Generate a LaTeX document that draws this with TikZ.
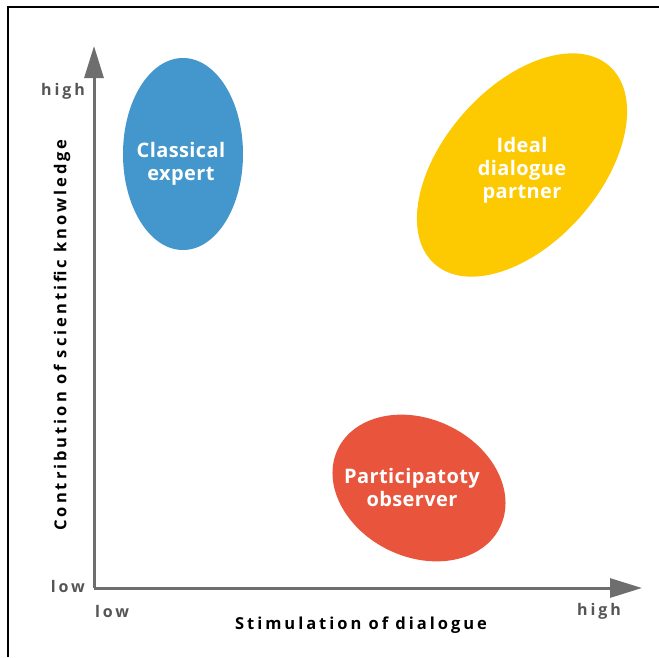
\documentclass[tikz,border=0pt]{standalone}
\usepackage{fontspec}
\setmainfont{Open Sans}
\newfontfamily\axisfont[LetterSpace=18]{Open Sans}
\newfontfamily\blobfont[LetterSpace=2]{Open Sans}
\usetikzlibrary{arrows.meta}
\definecolor{blueC}{HTML}{4497CC}
\definecolor{yellowC}{HTML}{FDC900}
\definecolor{redC}{HTML}{E8553C}
\definecolor{axisC}{HTML}{6E6E6E}
\definecolor{tickC}{HTML}{555555}
\begin{document}
\begin{tikzpicture}[x=1pt,y=-1pt,
  axis/.style={draw=axisC,line width=3pt,-{Triangle[length=32pt,width=19pt]}},
  blobtext/.style={text=white,font=\blobfont\bfseries\fontsize{20}{23}\selectfont,align=center,inner sep=0pt},
  ticklab/.style={text=tickC,font=\axisfont\bfseries\fontsize{16}{18}\selectfont,inner sep=0pt},
  axislab/.style={text=black,font=\axisfont\bfseries\fontsize{16.5}{18}\selectfont,inner sep=0pt}]
\useasboundingbox (0,0) rectangle (659,657);
\fill[white] (0,0) rectangle (659,657);
\draw[black,line width=1.5pt] (8,657) -- (8,7) -- (659,7);
% blobs
\fill[blueC] (183,154) ellipse [x radius=60, y radius=96];
\fill[yellowC, rotate around={48.6:(522,165)}] (522,165) ellipse [x radius=132, y radius=78];
\fill[redC, rotate around={-25.5:(419,488)}] (419,488) ellipse [x radius=90, y radius=69];
% axes
\coordinate (o) at (94,588);
\coordinate (ytip) at (94,46);
\coordinate (xtip) at (642,588);
\draw[axis] (o) -- (ytip);
\draw[axis] (o) -- (xtip);
% labels
\node[blobtext] (ce) at (181,164) {Classical\\expert};
\node[blobtext] (idp) at (522,170) {Ideal\\dialogue\\partner};
\node[blobtext] (po) at (412,487) {Participatoty\\observer};
\node[ticklab,anchor=east] (yhigh) at (85,91) {high};
\node[ticklab,anchor=east] (ylow) at (85,586) {low};
\node[ticklab,anchor=west] (xlow) at (95,611) {low};
\node[ticklab,anchor=east] (xhigh) at (621,611) {high};
\node[axislab] (xl) at (361,625) {Stimulation of dialogue};
\node[axislab,rotate=90] (yl) at (62,335) {Contribution of scientific knowledge};
\end{tikzpicture}
\end{document}
